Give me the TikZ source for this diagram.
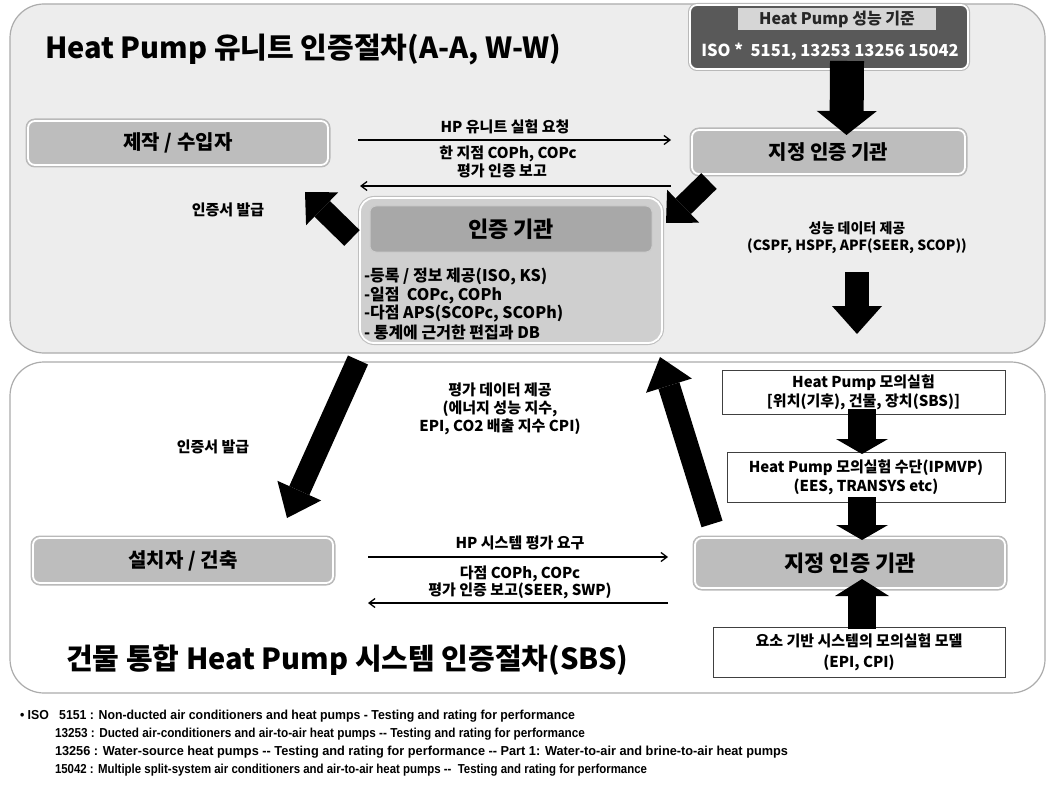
\documentclass[tikz,border=0pt]{standalone}
\usepackage{fontspec}
\usepackage{graphicx}
\setmainfont{Noto Sans CJK KR}
\newfontfamily\fnfont[FakeStretch=0.8]{Liberation Sans}
\usetikzlibrary{arrows.meta,calc}
\newcommand\fsz[2]{\fontsize{#1}{#2}\selectfont}
\begin{document}
\begin{tikzpicture}[x=1pt,y=-1pt,
  every node/.style={inner sep=0pt, outer sep=0pt, font=\bfseries},
  panel/.style={draw=gray!65, line width=1.2pt, rounded corners=34pt},
  graybox/.style={fill=gray!52, draw=white, line width=1.8pt, rounded corners=7pt,
                  preaction={draw=gray!55, line width=5pt}},
  whitebox/.style={fill=white, draw=black!75, line width=0.9pt, align=center},
  thinarrow/.style={draw=black, line width=1.3pt, -{Straight Barb[length=6pt,width=9pt]}},
  blk/.style args={#1/#2/#3}{draw=black, line width=#1,
      -{Triangle[length=#2,width=#3,line width=0pt]}},
  lbl/.style={align=center, font=\bfseries\fsz{15}{18}},
  boxlbl/.style={font=\bfseries\fsz{20}{24}}
]
\useasboundingbox (0,0) rectangle (1051,786);
\fill[white] (0,0) rectangle (1051,786);

% panels
\node[panel, fill=gray!14, minimum width=1035pt, minimum height=349pt] (toppanel) at (527.5,178.5) {};
\node[panel, fill=white, minimum width=1035pt, minimum height=331pt] (botpanel) at (527.5,527.5) {};

% titles
\node[anchor=west, font=\bfseries\fsz{29}{32}] (title1) at (45,50) {Heat Pump 유니트 인증절차(A-A, W-W)};
\node[anchor=west, font=\bfseries\fsz{29}{32}] (title2) at (66,660) {건물 통합 Heat Pump 시스템 인증절차(SBS)};

% standard box
\node[fill=gray!70!black, draw=white, line width=1.8pt, rounded corners=7pt,
      preaction={draw=gray!55, line width=4pt},
      minimum width=278pt, minimum height=64pt] (std) at (829,37) {};
\node[fill=gray!32, minimum width=198pt, minimum height=22pt, font=\bfseries\fsz{16}{19}, text=black!85]
      (stdlbl) at (837,19) {Heat Pump 성능 기준};
\node[font=\bfseries\fsz{16.5}{19}, text=white] (iso) at (830,52) {ISO *\ \ 5151, 13253 13256 15042};

% upper boxes
\node[graybox, boxlbl, minimum width=300pt, minimum height=44pt] (maker) at (178,143) {제작 / 수입자};
\node[graybox, boxlbl, minimum width=273pt, minimum height=44pt] (desig) at (828.5,152) {지정 인증 기관};

% certification body
\node[fill=gray!38, draw=white, line width=1.8pt, rounded corners=14pt,
      preaction={draw=gray!50, line width=4pt},
      minimum width=302pt, minimum height=145pt] (cert) at (511,270.5) {};
\node[fill=gray!68, draw=gray!40, line width=1pt, rounded corners=6pt,
      minimum width=282pt, minimum height=46pt, font=\bfseries\fsz{22}{26}] (certhdr) at (511,229) {인증 기관};
\node[anchor=west, font=\bfseries\fsz{16}{19}] (li1) at (364,277) {-등록 / 정보 제공(ISO, KS)};
\node[anchor=west, font=\bfseries\fsz{16}{19}] (li2) at (364,295.5) {-일점\ \ COPc, COPh};
\node[anchor=west, font=\bfseries\fsz{16}{19}] (li3) at (364,314) {-다점 APS(SCOPc, SCOPh)};
\node[anchor=west, font=\bfseries\fsz{16}{19}] (li4) at (364,332.5) {- 통계에 근거한 편집과 DB};

% upper thin arrows and labels
\coordinate (ua1) at (358,140);
\coordinate (ua2) at (671,140);
\coordinate (ub1) at (671,186);
\coordinate (ub2) at (360,186);
\draw[thinarrow] (ua1) -- (ua2);
\draw[thinarrow] (ub1) -- (ub2);
\node[lbl] (l1) at (505,127) {HP 유니트 실험 요청};
\node[lbl] (l2) at (508,154) {한 지점 COPh, COPc};
\node[lbl] (l3) at (502,171) {평가 인증 보고};
\node[lbl] (cert1) at (228,210) {인증서 발급};
\node[lbl, font=\bfseries\fsz{14}{17}] (perf) at (857,238) {성능 데이터 제공\\(CSPF, HSPF, APF(SEER, SCOP))};

% upper block arrows
\draw[blk=34pt/24pt/60pt] ([xshift=18pt,yshift=8pt]std.south) -- ([xshift=18pt,yshift=-5pt]desig.north);
\coordinate (ba1s) at (352,238);
\coordinate (ba1e) at (305,192);
\draw[blk=22pt/24pt/46pt] (ba1s) -- (ba1e);
\coordinate (ba2s) at (709,181);
\coordinate (ba2e) at (666,223);
\draw[blk=22pt/24pt/46pt] (ba2s) -- (ba2e);
\coordinate (ba3s) at (857,272);
\coordinate (ba3e) at (857,334);
\draw[blk=24pt/28pt/50pt] (ba3s) -- (ba3e);

% lower big arrows
\coordinate (bd1s) at (358,360);
\coordinate (bd1e) at (287,518);
\draw[blk=22pt/30pt/48pt] (bd1s) -- (bd1e);
\coordinate (bu1s) at (712,524);
\coordinate (bu1e) at (660,357);
\draw[blk=22pt/30pt/48pt] (bu1s) -- (bu1e);

\node[lbl] (evald) at (500,409) {평가 데이터 제공\\(에너지 성능 지수,\\EPI, CO2 배출 지수 CPI)};
\node[lbl] (cert2) at (213,447) {인증서 발급};

% lower boxes
\node[graybox, boxlbl, minimum width=300pt, minimum height=45pt] (inst) at (183,560.5) {설치자 / 건축};
\node[graybox, font=\bfseries\fsz{22}{26}, minimum width=310pt, minimum height=50pt] (desig2) at (850,563) {지정 인증 기관};
\node[whitebox, font=\bfseries\fsz{15}{19}, minimum width=283pt, minimum height=44pt] (sim1) at (863.5,392) {Heat Pump 모의실험\\{[}위치(기후), 건물, 장치(SBS){]}};
\node[whitebox, font=\bfseries\fsz{15}{19}, minimum width=278pt, minimum height=50pt] (sim2) at (866,477) {Heat Pump 모의실험 수단(IPMVP)\\(EES, TRANSYS etc)};
\node[whitebox, font=\bfseries\fsz{15}{21}, minimum width=292pt, minimum height=50pt] (sim3) at (859,652) {요소 기반 시스템의 모의실험 모델\\(EPI, CPI)};

\draw[blk=28pt/15pt/52pt] ([xshift=-1.5pt,yshift=5pt]sim1.south) -- ([xshift=-4pt,yshift=-2pt]sim2.north);
\draw[blk=28pt/15pt/52pt] ([xshift=-4pt,yshift=5pt]sim2.south) -- ([xshift=12pt,yshift=-2pt]desig2.north);
\draw[blk=28pt/17pt/54pt] ([xshift=3pt,yshift=-2pt]sim3.north) -- ([xshift=12pt,yshift=9pt]desig2.south);

% lower thin arrows and labels
\coordinate (la1) at (368,557);
\coordinate (la2) at (668,557);
\coordinate (lb1) at (668,603);
\coordinate (lb2) at (368,603);
\draw[thinarrow] (la1) -- (la2);
\draw[thinarrow] (lb1) -- (lb2);
\node[lbl] (m1) at (520,543) {HP 시스템 평가 요구};
\node[lbl] (m2) at (520,574) {다점 COPh, COPc};
\node[lbl] (m3) at (520,591) {평가 인증 보고(SEER, SWP)};

% footnotes
\node[anchor=west, font=\fnfont\bfseries\fsz{13}{15}] (fn1) at (20,716) {\resizebox{555pt}{\height}{• ISO\ \ \ 5151 : Non-ducted air conditioners and heat pumps - Testing and rating for performance}};
\node[anchor=west, font=\fnfont\bfseries\fsz{13}{15}] (fn2) at (55,734) {\resizebox{530pt}{\height}{13253 : Ducted air-conditioners and air-to-air heat pumps -- Testing and rating for performance}};
\node[anchor=west, font=\fnfont\bfseries\fsz{13}{15}] (fn3) at (55,752) {\resizebox{733pt}{\height}{13256 : Water-source heat pumps -- Testing and rating for performance -- Part 1: Water-to-air and brine-to-air heat pumps}};
\node[anchor=west, font=\fnfont\bfseries\fsz{13}{15}] (fn4) at (55,770) {\resizebox{592pt}{\height}{15042 : Multiple split-system air conditioners and air-to-air heat pumps --\ \ Testing and rating for performance}};
\end{tikzpicture}
\end{document}
